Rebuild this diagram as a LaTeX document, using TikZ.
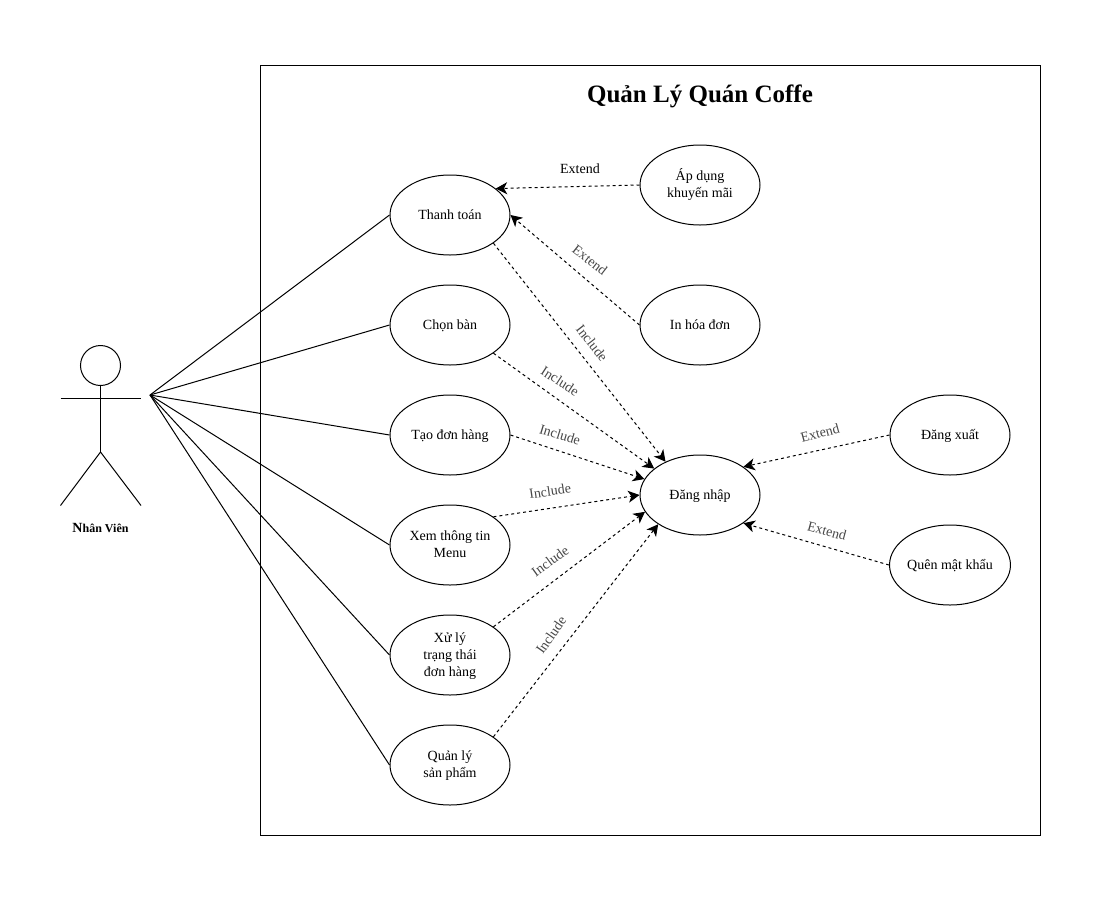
\documentclass[tikz,border=0pt]{standalone}
\usepackage{fontspec}
\setmainfont{Liberation Serif}
\usetikzlibrary{arrows.meta,shapes.geometric}
\newcommand\uctext[1]{\raisebox{-0.6pt}[\height][\depth]{\begin{tabular}{@{}c@{}}#1\end{tabular}}}
\tikzset{
  x=0.75pt,y=-0.75pt,
  usecase/.style={draw=black,line width=0.75pt,ellipse,minimum width=90pt,minimum height=60pt,inner sep=0pt,font=\fontsize{10.5pt}{12.75pt}\selectfont},
  assoc/.style={draw=black,line width=0.75pt},
  dep/.style={draw=black,line width=0.75pt,dash pattern=on 2.25pt off 2.25pt,-{Stealth[length=8.5pt,width=9pt,inset=2.4pt]}},
  lbl/.style={text=black!72,inner sep=0pt,font=\fontsize{10.5pt}{12.75pt}\selectfont},
}
\begin{document}
\begin{tikzpicture}
\useasboundingbox (0,0) rectangle (1100,900);
\fill[white] (0,0) rectangle (1100,900);
\node[draw=black,line width=0.75pt,minimum width=585pt,minimum height=577.5pt,inner sep=0pt] (frame) at (650.5,450.5) {};
\node[font=\fontsize{18.75pt}{22pt}\selectfont\bfseries,inner sep=0pt] (title) at (700,96) {Quản Lý Quán Coffe};
% actor
\node[draw=black,line width=0.75pt,circle,minimum size=30pt,inner sep=0pt] (head) at (100.5,365.5) {};
\coordinate (armL) at (60.5,398.5);
\coordinate (armR) at (141,398.5);
\coordinate (hip) at (100.5,452);
\coordinate (legL) at (60.5,505.5);
\coordinate (legR) at (141,505.5);
\draw[assoc] (head.south) -- (hip);
\draw[assoc] (armL) -- (armR);
\draw[assoc] (legL) -- (hip) -- (legR);
\node[inner sep=0pt,font=\fontsize{9pt}{11pt}\selectfont\bfseries] (actorname) at (100.5,527.5) {{\fontsize{10.5pt}{11pt}\selectfont N}hân Viên};
\coordinate (actor) at (150,395);
% use cases
\node[usecase] (tt) at (450,215) {\uctext{Thanh toán}};
\node[usecase] (cb) at (450,325) {\uctext{Chọn bàn}};
\node[usecase] (td) at (450,435) {\uctext{Tạo đơn hàng}};
\node[usecase] (xm) at (450,545) {\uctext{Xem thông tin\\Menu}};
\node[usecase] (xl) at (450,655) {\uctext{Xử lý\\trạng thái\\đơn hàng}};
\node[usecase] (ql) at (450,765) {\uctext{Quản lý\\sản phẩm}};
\node[usecase] (ad) at (700,185) {\uctext{Áp dụng\\khuyến mãi}};
\node[usecase] (in) at (700,325) {\uctext{In hóa đơn}};
\node[usecase] (dn) at (700,495) {\uctext{Đăng nhập}};
\node[usecase] (dx) at (950,435) {\uctext{Đăng xuất}};
\node[usecase] (qm) at (950,565) {\uctext{Quên mật khẩu}};
% associations
\foreach \n in {tt,cb,td,xm,xl,ql} \draw[assoc] (actor) -- (\n.west);
% dependencies
\draw[dep] (ad.west) -- (tt.30);
\draw[dep] (in.west) -- (tt.east);
\draw[dep] (tt.-33) -- (dn.136);
\draw[dep] (cb.-33) -- (dn.150);
\draw[dep] (td.east) -- (dn.164.6);
\draw[dep] (xm.33) -- (dn.west);
\draw[dep] (xl.33) -- (dn.197.5);
\draw[dep] (ql.33) -- (dn.215.5);
\draw[dep] (dx.west) -- (dn.33);
\draw[dep] (qm.west) -- (dn.-33);
% labels
\node[lbl,text=black] (l1) at (580,169) {Extend};
\node[lbl,rotate=-38] (l2) at (590,260) {Extend};
\node[lbl,rotate=-52] (l3) at (592,343) {Include};
\node[lbl,rotate=-33] (l4) at (560,381) {Include};
\node[lbl,rotate=-17] (l5) at (560,435) {Include};
\node[lbl,rotate=8] (l6) at (550,491) {Include};
\node[lbl,rotate=36] (l7) at (550,561) {Include};
\node[lbl,rotate=55] (l8) at (551,635) {Include};
\node[lbl,rotate=15] (l9) at (820,433) {Extend};
\node[lbl,rotate=-15] (l10) at (827,531) {Extend};
\end{tikzpicture}
\end{document}
